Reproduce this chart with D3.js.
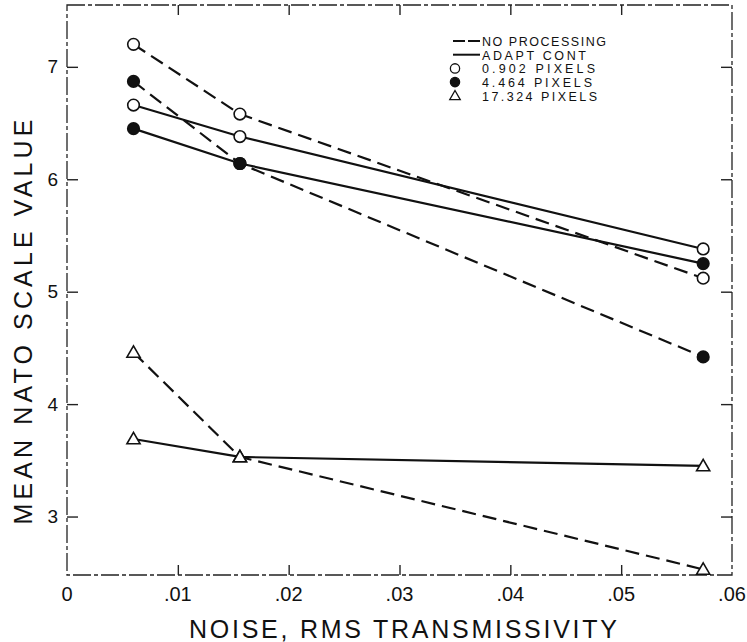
<!DOCTYPE html>
<html>
<head>
<meta charset="utf-8">
<script src="https://cdn.jsdelivr.net/npm/d3@7"></script>
<style>
    body { margin: 0; background: #fff; }
    svg { display: block; }
    text { font-family: 'Liberation Sans', Arial, sans-serif; fill: #111; }
</style>
</head>
<body>
<div id="chart-holder"></div>
<script>

// noise levels (x)
var noiseLevels = [0.006, 0.0156, 0.0574];

// mean NATO scale values, one array per curve
var noProc0902 = [7.20, 6.58, 5.12];
var noProc4464 = [6.87, 6.14, 4.42];
var noProc17324 = [4.46, 3.53, 2.53];
var adapt0902 = [6.66, 6.38, 5.38];
var adapt4464 = [6.45, 6.14, 5.25];
var adapt17324 = [3.69, 3.53, 3.45];

var xTicks = [0, 0.01, 0.02, 0.03, 0.04, 0.05, 0.06];
var xTickLabels = ['0', '.01', '.02', '.03', '.04', '.05', '.06'];
var yTicks = [3, 4, 5, 6, 7];

var legendLabels = ['NO PROCESSING', 'ADAPT CONT', '0.902 PIXELS', '4.464 PIXELS', '17.324 PIXELS'];

function createChart(elementId) {

    var width = 747;
    var height = 642;

    // plot box in pixels
    var left = 67, right = 732, top = 5, bottom = 575;

    var svg = d3
        .select(elementId)
        .append('svg')
        .attr('width', width)
        .attr('height', height);

    var x = d3.scaleLinear().domain([0, 0.06]).range([left, right]);
    var y = d3.scaleLinear().domain([2.48, 7.55]).range([bottom, top]);

    // frame (the scan shows a broken, dashed border)
    svg.append('rect')
        .attr('class', 'frame')
        .attr('x', left)
        .attr('y', top)
        .attr('width', right - left)
        .attr('height', bottom - top)
        .style('fill', 'none')
        .style('stroke', '#222')
        .style('stroke-width', 1.3)
        .style('stroke-dasharray', '18,3,4,3');

    // axes with ticks pointing inwards
    var innerTicks = xTicks.slice(1, -1);

    svg.append('g')
        .attr('transform', 'translate(0,' + bottom + ')')
        .call(d3.axisBottom(x).tickValues(innerTicks).tickSize(-10).tickFormat(''))
        .call(function(g) { g.select('.domain').remove(); });

    svg.append('g')
        .attr('transform', 'translate(0,' + top + ')')
        .call(d3.axisTop(x).tickValues(innerTicks).tickSize(-10).tickFormat(''))
        .call(function(g) { g.select('.domain').remove(); });

    svg.append('g')
        .attr('transform', 'translate(' + left + ',0)')
        .call(d3.axisLeft(y).tickValues(yTicks).tickSize(-11).tickPadding(18).tickFormat(d3.format('d')))
        .call(function(g) {
            g.select('.domain').remove();
            g.selectAll('text')
                .style('font-family', "'Liberation Sans', Arial, sans-serif")
                .style('font-size', '19px')
                .attr('dx', 9);
        });

    svg.append('g')
        .attr('transform', 'translate(' + right + ',0)')
        .call(d3.axisRight(y).tickValues(yTicks).tickSize(-11).tickFormat(''))
        .call(function(g) { g.select('.domain').remove(); });

    svg.selectAll('.tick line')
        .style('stroke', '#222')
        .style('stroke-width', 1.4);

    // x tick labels
    svg.append('g')
        .selectAll('text')
        .data(xTicks)
        .enter()
        .append('text')
        .attr('x', function(d) { return x(d); })
        .attr('y', 601)
        .attr('text-anchor', 'middle')
        .style('font-size', '20px')
        .text(function(d, i) { return xTickLabels[i]; });

    // axis titles
    svg.append('text')
        .attr('x', 403)
        .attr('y', 638)
        .attr('text-anchor', 'middle')
        .attr('textLength', 428)
        .attr('lengthAdjust', 'spacing')
        .style('font-size', '25px')
        .text('NOISE, RMS TRANSMISSIVITY');

    svg.append('text')
        .attr('transform', 'translate(32,322) rotate(-90)')
        .attr('text-anchor', 'middle')
        .attr('textLength', 405)
        .attr('lengthAdjust', 'spacing')
        .style('font-size', '25px')
        .text('MEAN NATO SCALE VALUE');

    // curves
    var series = [
        { values: noProc0902, dashed: true, marker: 'open' },
        { values: noProc4464, dashed: true, marker: 'filled' },
        { values: noProc17324, dashed: true, marker: 'triangle' },
        { values: adapt0902, dashed: false, marker: 'open' },
        { values: adapt4464, dashed: false, marker: 'filled' },
        { values: adapt17324, dashed: false, marker: 'triangle' }
    ];

    var line = d3.line()
        .x(function(d, i) { return x(noiseLevels[i]); })
        .y(function(d) { return y(d); });

    svg.append('g')
        .attr('class', 'lines')
        .selectAll('path')
        .data(series)
        .enter()
        .append('path')
        .attr('d', function(d) { return line(d.values); })
        .style('fill', 'none')
        .style('stroke', '#111')
        .style('stroke-width', 2.2)
        .style('stroke-dasharray', function(d) { return d.dashed ? '14,7' : null; });

    var triangle = d3.symbol().type(d3.symbolTriangle).size(75);

    function drawMarker(sel, kind) {
        if (kind === 'triangle') {
            sel.append('path')
                .attr('d', triangle)
                .attr('transform', 'translate(0,1)')
                .style('fill', '#fff')
                .style('stroke', '#111')
                .style('stroke-width', 1.6);
        } else {
            sel.append('circle')
                .attr('r', 5.8)
                .style('fill', kind === 'filled' ? '#111' : '#fff')
                .style('stroke', '#111')
                .style('stroke-width', 1.6);
        }
    }

    var points = [];
    series.forEach(function(s) {
        s.values.forEach(function(v, i) {
            points.push({ x: noiseLevels[i], y: v, marker: s.marker });
        });
    });

    svg.append('g')
        .attr('class', 'markers')
        .selectAll('g')
        .data(points)
        .enter()
        .append('g')
        .attr('transform', function(d) { return 'translate(' + x(d.x) + ',' + y(d.y) + ')'; })
        .each(function(d) { drawMarker(d3.select(this), d.marker); });

    // legend
    var legendX = 453, legendY = 41, rowStep = 13.7;
    var legend = svg.append('g').attr('class', 'legend');
    var legendKinds = ['dashed', 'solid', 'open', 'filled', 'triangle'];
    var legendWidths = [124, 104, 113, 110, 115];

    legendKinds.forEach(function(kind, i) {
        var ry = legendY + i * rowStep;
        if (kind === 'dashed' || kind === 'solid') {
            legend.append('line')
                .attr('x1', legendX)
                .attr('x2', legendX + 27)
                .attr('y1', ry)
                .attr('y2', ry)
                .style('stroke', '#111')
                .style('stroke-width', 2)
                .style('stroke-dasharray', kind === 'dashed' ? '12,3' : null);
        } else {
            var m = legend.append('g')
                .attr('transform', 'translate(' + (legendX + 2) + ',' + ry + ') scale(0.8)');
            drawMarker(m, kind);
        }
        legend.append('text')
            .attr('x', legendX + 29)
            .attr('y', ry + 5)
            .attr('textLength', legendWidths[i])
            .attr('lengthAdjust', 'spacing')
            .style('font-size', '12.5px')
            .text(legendLabels[i]);
    });
}

createChart('#chart-holder');
</script>
</body>
</html>
